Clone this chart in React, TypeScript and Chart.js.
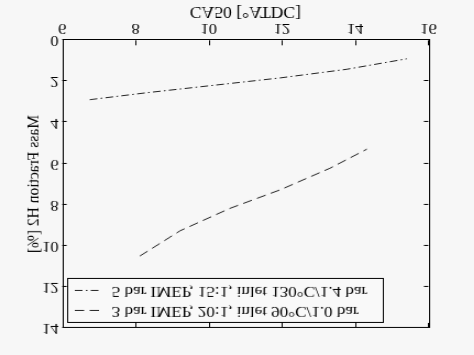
import React, { useEffect, useRef } from "react";
import { Chart, registerables } from "chart.js";

Chart.register(...registerables);

// ---- data ----
const seriesLabels = [
  "3 bar IMEP, 20:1, inlet 90°C/1.0 bar",
  "5 bar IMEP, 15:1, inlet 130°C/1.4 bar",
];
const ca50Low = [8.12, 9.22, 10.58, 11.95, 13.31, 14.32];
const h2Low = [10.5, 9.27, 8.18, 7.28, 6.23, 5.3];
const ca50High = [6.75, 8.31, 10.13, 11.95, 13.77, 15.41];
const h2High = [2.89, 2.55, 2.19, 1.83, 1.41, 0.9];
const xTickValues = [6, 8, 10, 12, 14, 16];
const yTickValues = [0, 2, 4, 6, 8, 10, 12, 14];
const xTitle = "CA50 [°ATDC]";
const yTitle = "Mass Fraction H2 [%]";

// ---- presentation ----
const PAGE_W = 474;
const PAGE_H = 355;
const SX = 1.1;
const CW = Math.round(PAGE_W / SX);
const FONT = "'Liberation Serif', 'Times New Roman', serif";
const INK = "#000";
const LINE = "#222";

const bgPlugin = {
  id: "bg",
  beforeDraw(chart: any) {
    const ctx = chart.ctx;
    ctx.save();
    ctx.fillStyle = "#f7f7f7";
    ctx.fillRect(0, 0, chart.width, chart.height);
    ctx.restore();
  },
};

const boxPlugin = {
  id: "boxTicks",
  afterDatasetsDraw(chart: any) {
    const { ctx, chartArea: a } = chart;
    const xs = chart.scales.x;
    const ys = chart.scales.y;
    ctx.save();
    ctx.strokeStyle = INK;
    ctx.lineWidth = 1;
    ctx.setLineDash([]);
    ctx.beginPath();
    xTickValues.forEach((v) => {
      const px = Math.round(xs.getPixelForValue(v)) + 0.5;
      ctx.moveTo(px, a.bottom);
      ctx.lineTo(px, a.bottom - 5);
      ctx.moveTo(px, a.top);
      ctx.lineTo(px, a.top + 5);
    });
    yTickValues.forEach((v) => {
      const py = Math.round(ys.getPixelForValue(v)) + 0.5;
      ctx.moveTo(a.left, py);
      ctx.lineTo(a.left + 4, py);
      ctx.moveTo(a.right, py);
      ctx.lineTo(a.right - 4, py);
    });
    ctx.stroke();
    ctx.strokeRect(
      Math.round(a.left) + 0.5,
      Math.round(a.top) + 0.5,
      Math.round(a.right - a.left),
      Math.round(a.bottom - a.top)
    );
    ctx.restore();
  },
};

const legendPlugin = {
  id: "innerLegend",
  afterDraw(chart: any) {
    const ctx = chart.ctx;
    const bx = 61, by = 32, bw = 287, bh = 44;
    ctx.save();
    ctx.fillStyle = "#f9f9f9";
    ctx.fillRect(bx, by, bw, bh);
    ctx.strokeStyle = INK;
    ctx.lineWidth = 1;
    ctx.strokeRect(bx + 0.5, by + 0.5, bw, bh);
    ctx.font = `15.5px ${FONT}`;
    ctx.fillStyle = INK;
    ctx.textBaseline = "middle";
    ctx.textAlign = "left";
    chart.data.datasets.forEach((ds: any, i: number) => {
      const y = by + 11.5 + i * 20;
      ctx.strokeStyle = LINE;
      ctx.setLineDash(ds.borderDash || []);
      ctx.beginPath();
      ctx.moveTo(68, Math.round(y) + 0.5);
      ctx.lineTo(91, Math.round(y) + 0.5);
      ctx.stroke();
      ctx.setLineDash([]);
      ctx.fillText(ds.label, 101.5, y);
    });
    ctx.restore();
  },
};

export default function App() {
  const ref = useRef<HTMLCanvasElement | null>(null);

  useEffect(() => {
    document.body.style.margin = "0";
    const canvas = ref.current!;
    const chart = new Chart(canvas, {
      type: "line",
      data: {
        datasets: [
          {
            label: seriesLabels[0],
            data: ca50Low.map((x, i) => ({ x, y: h2Low[i] })),
            borderColor: LINE,
            borderWidth: 1,
            borderDash: [8.5, 5],
            pointRadius: 0,
            tension: 0,
            fill: false,
          },
          {
            label: seriesLabels[1],
            data: ca50High.map((x, i) => ({ x, y: h2High[i] })),
            borderColor: LINE,
            borderWidth: 1,
            borderDash: [7, 3, 1.5, 3],
            pointRadius: 0,
            tension: 0,
            fill: false,
          },
        ],
      },
      options: {
        animation: false,
        responsive: false,
        devicePixelRatio: 1,
        layout: { padding: { top: 27, right: CW - 389.4, left: 0, bottom: 0 } },
        plugins: { legend: { display: false }, tooltip: { enabled: false } },
        scales: {
          x: {
            type: "linear",
            min: 6,
            max: 16,
            afterBuildTicks: (s: any) => {
              s.ticks = xTickValues.map((v) => ({ value: v }));
            },
            afterFit: (s: any) => {
              s.height = 40.3;
            },
            grid: { display: false, drawTicks: false },
            border: { display: false },
            ticks: {
              color: INK,
              padding: 3.5,
              maxRotation: 0,
              font: { family: FONT, size: 15 },
            },
            title: {
              display: true,
              text: xTitle,
              color: INK,
              font: { family: FONT, size: 16 },
              padding: { top: 0, bottom: 1.4 },
            },
          },
          y: {
            type: "linear",
            min: 0,
            max: 14,
            afterBuildTicks: (s: any) => {
              s.ticks = yTickValues.map((v) => ({ value: v }));
            },
            afterFit: (s: any) => {
              s.width = 56.6;
            },
            grid: { display: false, drawTicks: false },
            border: { display: false },
            ticks: {
              color: INK,
              padding: 3.4,
              font: { family: FONT, size: 15 },
            },
            title: {
              display: true,
              text: yTitle,
              color: INK,
              font: { family: FONT, size: 15.5 },
              padding: { top: 21.4, bottom: 0 },
            },
          },
        },
      },
      plugins: [bgPlugin, boxPlugin, legendPlugin],
    });
    return () => chart.destroy();
  }, []);

  return (
    <div
      style={{
        position: "fixed",
        left: 0,
        top: 0,
        width: PAGE_W,
        height: PAGE_H,
        overflow: "hidden",
        background: "#f7f7f7",
      }}
    >
      <canvas
        ref={ref}
        width={CW}
        height={PAGE_H}
        style={{
          display: "block",
          width: CW,
          height: PAGE_H,
          transformOrigin: "0 0",
          transform: `translateY(${PAGE_H}px) scale(${SX}, -1)`,
        }}
      />
    </div>
  );
}
